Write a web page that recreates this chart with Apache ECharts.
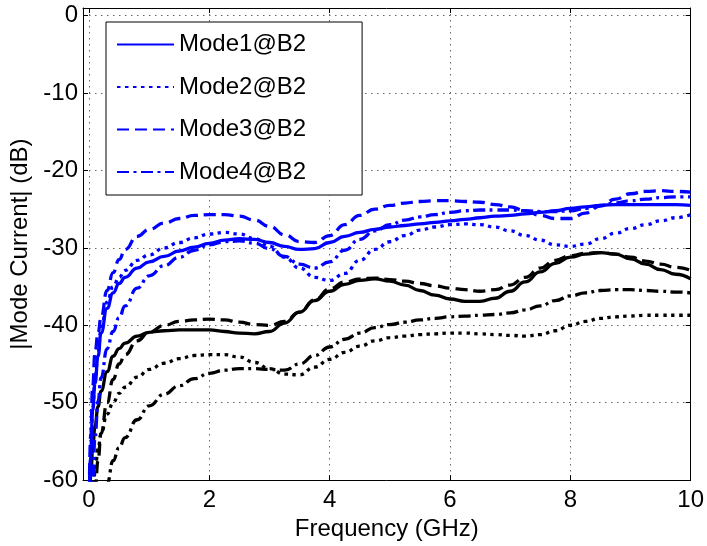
<!DOCTYPE html>
<html>
<head>
<meta charset="utf-8">
<script src="https://cdn.jsdelivr.net/npm/echarts@6/dist/echarts.min.js"></script>
<style>
  html, body { margin: 0; padding: 0; background: #fff; }
  #chart { width: 707px; height: 546px; }
</style>
</head>
<body>
<div id="chart"></div>
<script>
// Frequency samples (GHz) shared by every curve
const frequencyGHz = [0, 0.03, 0.06, 0.1, 0.15, 0.2, 0.3, 0.4, 0.5, 0.6, 0.8, 1.0, 1.25, 1.5, 1.75, 2.0, 2.25, 2.5, 2.75, 3.0, 3.25, 3.5, 3.75, 4.0, 4.25, 4.5, 4.75, 5.0, 5.25, 5.5, 5.75, 6.0, 6.25, 6.5, 6.75, 7.0, 7.25, 7.5, 7.75, 8.0, 8.25, 8.5, 8.75, 9.0, 9.25, 9.5, 9.75, 10.0];

// |Mode current| in dB, blue set (@B2)
const mode1B2 = [-64, -56, -51, -47.5, -44, -41, -37.8, -35.8, -34.6, -33.8, -32.6, -31.8, -31.1, -30.4, -29.9, -29.4, -29.0, -28.8, -28.9, -29.3, -29.8, -30.2, -30.1, -29.3, -28.5, -28.0, -27.6, -27.3, -27.1, -26.9, -26.7, -26.5, -26.3, -26.1, -25.9, -25.8, -25.6, -25.4, -25.2, -24.9, -24.7, -24.5, -24.4, -24.4, -24.4, -24.4, -24.4, -24.5];
const mode2B2 = [-65, -57, -51, -47, -43.5, -40.5, -37, -35, -33.8, -32.9, -31.6, -30.9, -30.0, -29.3, -28.7, -28.2, -28.0, -28.2, -28.8, -29.8, -31.2, -32.6, -33.8, -34.2, -33.3, -31.6, -30.2, -29.2, -28.4, -27.7, -27.3, -27.0, -26.9, -27.0, -27.3, -27.8, -28.4, -29.0, -29.6, -29.8, -29.5, -28.8, -28.1, -27.5, -27.0, -26.5, -26.1, -25.7];
const mode3B2 = [-64, -54, -48, -43.5, -41, -39, -35.5, -33.2, -31.5, -30.2, -28.5, -27.6, -26.8, -26.2, -25.8, -25.7, -25.7, -25.9, -26.4, -27.2, -28.3, -29.2, -29.3, -28.4, -27.0, -25.8, -25.0, -24.5, -24.2, -24.0, -23.9, -23.9, -24.0, -24.1, -24.4, -24.7, -25.2, -25.8, -26.2, -26.2, -25.5, -24.6, -23.7, -23.0, -22.7, -22.6, -22.7, -22.8];
const mode4B2 = [-75, -67, -60, -54.5, -49.8, -46.8, -43.0, -40.8, -39.0, -37.5, -35.2, -33.6, -32.3, -31.2, -30.3, -29.6, -29.2, -29.1, -29.4, -30.1, -31.1, -32.1, -32.6, -31.8, -30.3, -28.9, -27.8, -27.0, -26.4, -26.0, -25.7, -25.4, -25.2, -25.1, -25.1, -25.1, -25.2, -25.3, -25.3, -25.2, -24.9, -24.5, -24.2, -23.9, -23.7, -23.5, -23.4, -23.4];

// |Mode current| in dB, black set
const mode1K = [-64, -59.5, -56, -53, -50.5, -48.5, -46, -44, -43, -42.3, -41.4, -40.9, -40.7, -40.6, -40.6, -40.6, -40.8, -41.0, -41.1, -40.8, -39.7, -38.3, -36.8, -35.6, -34.7, -34.2, -34.0, -34.3, -34.8, -35.5, -36.1, -36.6, -36.9, -36.9, -36.5, -35.6, -34.4, -33.1, -32.0, -31.2, -30.8, -30.6, -30.8, -31.4, -32.1, -32.8, -33.4, -34.0];
const mode2K = [-75, -68, -63, -59, -56, -54, -51.5, -50, -48.8, -48.0, -46.7, -45.7, -44.9, -44.3, -43.9, -43.8, -43.8, -44.1, -44.8, -45.6, -46.3, -46.4, -45.4, -44.4, -43.5, -42.7, -42.0, -41.6, -41.4, -41.2, -41.1, -41.0, -41.0, -41.1, -41.2, -41.3, -41.4, -41.2, -40.7, -40.0, -39.5, -39.1, -38.9, -38.8, -38.7, -38.7, -38.7, -38.7];
const mode3K = [-80, -72, -67, -61.5, -57.5, -54, -50, -47, -45, -43.8, -42.0, -40.9, -40.0, -39.5, -39.3, -39.2, -39.3, -39.6, -39.9, -40.0, -39.5, -38.3, -36.7, -35.3, -34.4, -34.0, -33.9, -34.1, -34.3, -34.6, -34.9, -35.2, -35.4, -35.6, -35.4, -34.8, -33.8, -32.6, -31.6, -31.0, -30.7, -30.6, -30.8, -31.2, -31.7, -32.1, -32.5, -32.9];
const mode4K = [-95, -90, -86, -80, -74, -69, -60.5, -57.5, -55.8, -54.5, -52.2, -50.4, -48.9, -47.8, -46.9, -46.2, -45.8, -45.6, -45.6, -45.7, -45.8, -45.0, -43.9, -42.8, -41.8, -41.0, -40.3, -39.9, -39.6, -39.3, -39.1, -38.9, -38.8, -38.7, -38.6, -38.4, -38.0, -37.5, -36.8, -36.2, -35.8, -35.5, -35.4, -35.4, -35.5, -35.6, -35.7, -35.8];

// Axis ranges and legend entries
const xRange = [-0.1, 10];
const yRange = [-60, 1];
const legendNames = ['Mode1@B2', 'Mode2@B2', 'Mode3@B2', 'Mode4@B2'];

const FONT = '"Liberation Sans", Arial, Helvetica, sans-serif';
const FONT_SIZE = 24;
const BLUE = '#0000ff';
const BLACK = '#000000';
const DOTTED = [3.5, 4.5];
const DASHED = [12, 6];
const DASHDOT = [12, 4.5, 3, 4.5];

function pairs(values) {
  return frequencyGHz.map((f, i) => [f, values[i]]);
}

function curve(name, values, color, dash, z) {
  return {
    name: name,
    type: 'line',
    data: pairs(values),
    symbol: 'none',
    showSymbol: false,
    smooth: 0.5,
    smoothMonotone: 'x',
    clip: true,
    z: z,
    lineStyle: { color: color, width: 3.3, type: dash, cap: 'butt' },
    itemStyle: { color: color },
    emphasis: { disabled: true }
  };
}

const gridLine = { show: true, lineStyle: { color: '#666', width: 1, type: [1.5, 4.5] } };
const frame = { show: true, onZero: false, lineStyle: { color: '#000', width: 1 } };
const innerTick = { show: true, inside: true, length: 5, lineStyle: { color: '#000', width: 1 } };
const labelText = { fontSize: FONT_SIZE, color: '#000', fontFamily: FONT };

const chart = echarts.init(document.getElementById('chart'), null, { renderer: 'canvas' });
chart.setOption({
  animation: false,
  backgroundColor: '#fff',
  textStyle: { fontFamily: FONT },
  grid: { left: 83, right: 14, top: 8, bottom: 56, containLabel: false },
  legend: {
    data: legendNames,
    orient: 'vertical',
    left: 106,
    top: 22,
    padding: [10.5, 56, 11, 10],
    itemGap: 18.5,
    itemWidth: 57,
    itemHeight: 14,
    backgroundColor: '#fff',
    borderColor: '#000',
    borderWidth: 1,
    borderRadius: 0,
    selectedMode: false,
    itemStyle: { opacity: 0, borderWidth: 0 },
    textStyle: Object.assign({ lineHeight: 24 }, labelText)
  },
  xAxis: [
    {
      type: 'value', min: xRange[0], max: xRange[1], position: 'bottom',
      name: 'Frequency (GHz)', nameLocation: 'middle', nameGap: 29,
      nameTextStyle: labelText,
      axisLine: frame, axisTick: innerTick,
      axisLabel: Object.assign({ showMinLabel: false, margin: 8 }, labelText),
      splitLine: gridLine
    },
    {
      type: 'value', min: xRange[0], max: xRange[1], position: 'top',
      axisLine: frame, axisTick: innerTick,
      axisLabel: { show: false }, splitLine: { show: false }
    }
  ],
  yAxis: [
    {
      type: 'value', min: yRange[0], max: yRange[1], position: 'left',
      name: '|Mode Current| (dB)', nameLocation: 'middle', nameGap: 43,
      nameTextStyle: labelText,
      axisLine: frame, axisTick: innerTick,
      axisLabel: Object.assign({ showMaxLabel: false, margin: 5 }, labelText),
      splitLine: gridLine
    },
    {
      type: 'value', min: yRange[0], max: yRange[1], position: 'right',
      axisLine: frame, axisTick: innerTick,
      axisLabel: { show: false }, splitLine: { show: false }
    }
  ],
  series: [
    curve('Mode1', mode1K, BLACK, 'solid', 2),
    curve('Mode2', mode2K, BLACK, DOTTED, 2),
    curve('Mode3', mode3K, BLACK, DASHED, 2),
    curve('Mode4', mode4K, BLACK, DASHDOT, 2),
    curve(legendNames[0], mode1B2, BLUE, 'solid', 3),
    curve(legendNames[1], mode2B2, BLUE, DOTTED, 3),
    curve(legendNames[2], mode3B2, BLUE, DASHED, 3),
    curve(legendNames[3], mode4B2, BLUE, DASHDOT, 3)
  ]
});
</script>
</body>
</html>
